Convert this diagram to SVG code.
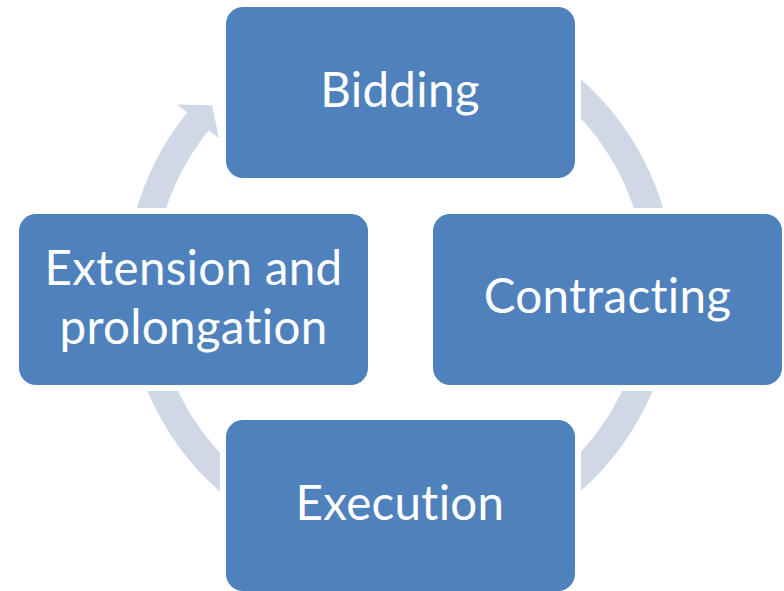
<svg xmlns="http://www.w3.org/2000/svg" width="784" height="591" viewBox="0 0 784 591">
  <style>
    .box { fill: #4F81BD; }
    .lbl { fill: #FFFFFF; font-family: Lato, "Open Sans", "Liberation Sans", sans-serif; font-size: 47.5px; letter-spacing: 0.3px; font-variant-ligatures: none; text-anchor: middle; }
    .ring { fill: #D0D8E8; }
  </style>
  <defs>
    <mask id="gapMask" maskUnits="userSpaceOnUse" x="0" y="0" width="784" height="591">
      <rect x="0" y="0" width="784" height="591" fill="#fff"/>
      <rect x="220" y="1" width="361" height="183" rx="20" fill="#000"/>
      <rect x="427" y="208" width="361" height="183" rx="20" fill="#000"/>
      <rect x="220" y="414" width="361" height="183" rx="20" fill="#000"/>
      <rect x="13" y="208" width="361" height="183" rx="20" fill="#000"/>
    </mask>
  </defs>
  <g id="connectors">
    <path class="ring" mask="url(#gapMask)" d="M493.71,27.52 A274,274 0 1 1 187.06,112.57 L176.96,104.39 L212.03,105.37 L218.92,138.37 L208.82,130.19 A246,246 0 1 0 484.14,53.84 Z"/>
  </g>
  <g id="node-bidding">
    <rect class="box" x="226" y="7" width="349" height="171" rx="17"/>
    <text class="lbl" x="400" y="107">Bidding</text>
  </g>
  <g id="node-contracting">
    <rect class="box" x="433" y="214" width="349" height="171" rx="17"/>
    <text class="lbl" x="607.5" y="313">Contracting</text>
  </g>
  <g id="node-execution">
    <rect class="box" x="226" y="420" width="349" height="171" rx="17"/>
    <text class="lbl" x="400" y="520">Execution</text>
  </g>
  <g id="node-extension">
    <rect class="box" x="19" y="214" width="349" height="171" rx="17"/>
    <text class="lbl" x="193.5" y="285">Extension and</text>
    <text class="lbl" x="193.5" y="344">prolongation</text>
  </g>
</svg>
